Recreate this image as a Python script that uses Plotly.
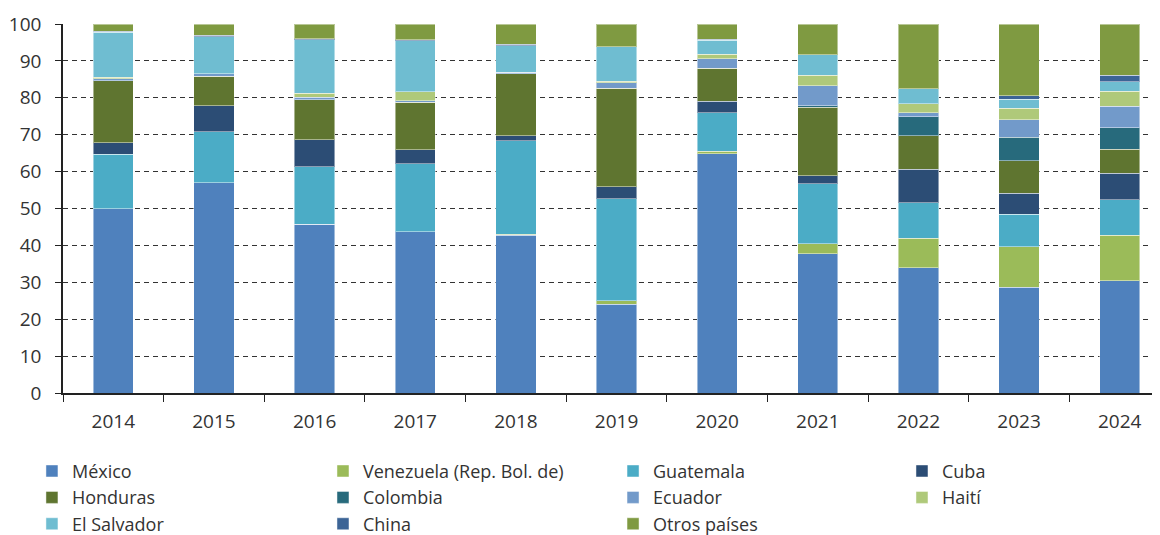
import plotly.graph_objects as go

years = ["2014", "2015", "2016", "2017", "2018", "2019", "2020", "2021", "2022", "2023", "2024"]

mexico      = [50.0, 57.0, 45.7, 43.7, 42.7, 24.1, 64.8, 37.7, 33.9, 28.7, 30.4]
venezuela   = [0.0, 0.0, 0.0, 0.0, 0.3, 0.9, 0.7, 2.8, 8.0, 11.0, 12.4]
guatemala   = [14.7, 13.8, 15.6, 18.4, 25.3, 27.6, 10.5, 16.2, 9.6, 8.8, 9.6]
cuba        = [3.1, 7.1, 7.4, 3.8, 1.4, 3.3, 3.0, 2.2, 9.2, 5.7, 7.1]
honduras    = [16.8, 7.9, 10.8, 12.9, 16.8, 26.7, 9.0, 18.5, 9.0, 8.8, 6.5]
colombia    = [0.0, 0.0, 0.0, 0.0, 0.0, 0.0, 0.0, 0.4, 5.2, 6.3, 5.9]
ecuador     = [0.6, 0.7, 0.6, 0.4, 0.4, 1.5, 2.6, 5.5, 1.0, 4.7, 5.8]
haiti       = [0.4, 0.0, 1.2, 2.4, 0.0, 0.4, 1.2, 2.8, 2.5, 3.2, 4.1]
el_salvador = [12.1, 10.1, 14.4, 13.9, 7.2, 9.4, 3.8, 5.6, 4.0, 2.4, 2.5]
china       = [0.3, 0.4, 0.3, 0.3, 0.4, 0.0, 0.3, 0.0, 0.0, 0.9, 1.8]
otros       = [2.0, 3.0, 4.0, 4.2, 5.5, 6.1, 4.1, 8.3, 17.6, 19.5, 13.9]

series = [
    ("México", mexico, "#4F81BD"),
    ("Venezuela (Rep. Bol. de)", venezuela, "#9BBB59"),
    ("Guatemala", guatemala, "#4BACC6"),
    ("Cuba", cuba, "#2C4D75"),
    ("Honduras", honduras, "#5F7530"),
    ("Colombia", colombia, "#276A7C"),
    ("Ecuador", ecuador, "#729ACA"),
    ("Haití", haiti, "#AFC97A"),
    ("El Salvador", el_salvador, "#6FBDD1"),
    ("China", china, "#3C6496"),
    ("Otros países", otros, "#7F9A41"),
]

legend_ids = ["legend", "legend2", "legend3", "legend4"]

fig = go.Figure()
for i, (name, vals, col) in enumerate(series):
    fig.add_trace(go.Bar(
        x=years, y=vals, name=name,
        legend=legend_ids[i % 4],
        marker=dict(color=col, line=dict(color="rgba(255,255,255,0.45)", width=1)),
    ))

font_family = "Open Sans, Roboto, sans-serif"

# The page body has an 8px margin, so the figure is drawn 8px right/down.
fig_w, fig_h = 1152, 580
m_l, m_t = 55, 16
plot_bottom = 385

legend_x = [-0.0283, 0.2370, 0.5014, 0.7648]
legend_common = dict(
    orientation="v",
    xanchor="left",
    y=-0.162, yanchor="top",
    itemwidth=30,
    font=dict(size=18, color="#333333"),
    traceorder="normal",
    itemclick=False,
    bgcolor="rgba(0,0,0,0)",
)

fig.update_layout(
    barmode="stack",
    bargap=0.6,
    width=fig_w, height=fig_h,
    margin=dict(l=m_l, r=0, t=m_t, b=fig_h - plot_bottom),
    paper_bgcolor="white", plot_bgcolor="white",
    font=dict(family=font_family, size=19, color="#333333"),
    showlegend=True,
    legend=dict(x=legend_x[0], **legend_common),
    legend2=dict(x=legend_x[1], **legend_common),
    legend3=dict(x=legend_x[2], **legend_common),
    legend4=dict(x=legend_x[3], **legend_common),
    xaxis=dict(
        type="category",
        range=[-0.5, 10.4],
        showline=True, linecolor="#222222", linewidth=1.5,
        ticks="outside", tickson="boundaries", ticklen=7, tickcolor="#222222",
        ticklabelstandoff=10,
        showgrid=False,
        tickfont=dict(size=19),
    ),
    yaxis=dict(
        range=[0, 100],
        dtick=10,
        showline=True, linecolor="#222222", linewidth=1.5,
        ticks="outside", ticklen=6, tickcolor="#222222",
        ticklabelstandoff=10,
        showgrid=True, gridcolor="#333333", gridwidth=1, griddash="5px,4px",
        zeroline=False,
        tickfont=dict(size=19),
    ),
)

fig.write_html("out.html")
